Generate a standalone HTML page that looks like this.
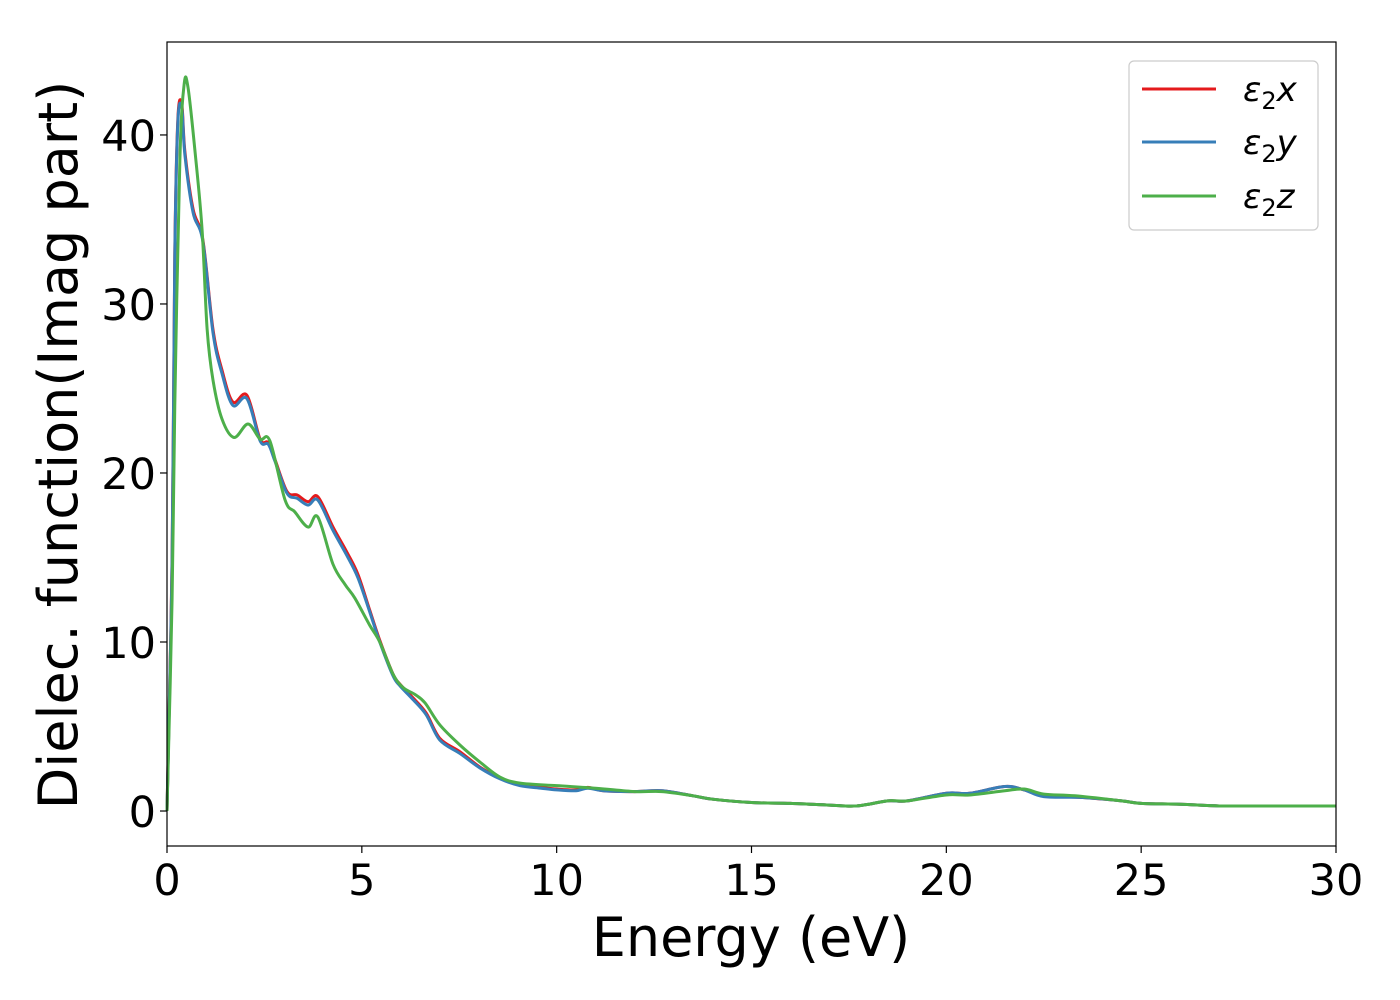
<!DOCTYPE html>
<html><head><meta charset="utf-8"><style>
html,body{margin:0;padding:0;background:#fff;}
svg{display:block;font-family:"DejaVu Sans","Liberation Sans",sans-serif;}
</style></head><body>
<svg id="chart" width="1400" height="1000" viewBox="0 0 1400 1000" xmlns="http://www.w3.org/2000/svg">
<rect x="0" y="0" width="1400" height="1000" fill="#fff"/>
<g id="series"></g>
<g id="axes"></g>
<rect x="167" y="42" width="1169" height="804" fill="none" stroke="#000" stroke-width="1.2"/>
<text x="751" y="956" font-size="54" text-anchor="middle">Energy (eV)</text>
<text transform="translate(77,445) rotate(-90)" font-size="54" text-anchor="middle">Dielec. function(Imag part)</text>
<g>
<rect x="1129" y="61" width="189" height="169" rx="5" fill="#fff" stroke="#ccc" stroke-width="1.2"/>
<g><line x1="1142" y1="89" x2="1216" y2="89" stroke="#e41a1c" stroke-width="3"/><text x="1243" y="101" font-size="34" font-style="italic">ε<tspan font-size="24" font-style="normal" dy="8">2</tspan><tspan dy="-8">x</tspan></text></g>
<g><line x1="1142" y1="142" x2="1216" y2="142" stroke="#377eb8" stroke-width="3"/><text x="1243" y="154" font-size="34" font-style="italic">ε<tspan font-size="24" font-style="normal" dy="8">2</tspan><tspan dy="-8">y</tspan></text></g>
<g><line x1="1142" y1="196" x2="1216" y2="196" stroke="#4daf4a" stroke-width="3"/><text x="1243" y="208" font-size="34" font-style="italic">ε<tspan font-size="24" font-style="normal" dy="8">2</tspan><tspan dy="-8">z</tspan></text></g>
</g>
</svg>
<script>
const xTicks=[0,5,10,15,20,25,30];
const yTicks=[0,10,20,30,40];
const energyXY=[0,0.13,0.2,0.28,0.38,0.46,0.67,0.92,1.18,1.41,1.69,2.05,2.39,2.6,2.77,3.08,3.34,3.62,3.87,4.26,4.62,4.9,5.2,5.46,5.8,5.98,6.29,6.65,7.0,7.52,8.03,8.55,9.06,9.6,10,10.5,10.8,11.2,12,12.7,13.5,14,15,16,17,17.7,18.5,19,20,20.6,21.5,22,22.5,23.5,24.5,25,26,27,28,30];
const epsX=[0,14.9,33,41,41.8,39,35.6,33.8,28.5,26.1,24.2,24.6,22.0,21.8,20.8,18.9,18.7,18.3,18.6,16.8,15.3,14.0,11.9,10.1,8.1,7.5,6.75,5.8,4.3,3.5,2.6,1.95,1.55,1.4,1.3,1.25,1.4,1.2,1.15,1.2,0.9,0.7,0.5,0.45,0.35,0.3,0.6,0.6,1.05,1.05,1.45,1.25,0.9,0.8,0.6,0.45,0.4,0.3,0.3,0.3];
const epsY=[0,14.7,32.8,40.8,41.6,38.8,35.4,33.7,28.3,25.9,24.0,24.4,21.9,21.7,20.7,18.8,18.5,18.1,18.4,16.6,15.1,13.8,11.8,10.0,8.0,7.4,6.65,5.7,4.2,3.4,2.55,1.9,1.5,1.35,1.25,1.2,1.35,1.2,1.15,1.2,0.9,0.7,0.5,0.45,0.35,0.3,0.6,0.6,1.05,1.05,1.45,1.25,0.85,0.8,0.6,0.45,0.4,0.3,0.3,0.3];
const energyZ=[0,0.13,0.2,0.33,0.44,0.54,0.72,0.9,1.03,1.18,1.41,1.72,2.08,2.39,2.64,3.03,3.28,3.62,3.87,4.26,4.57,4.82,5.2,5.46,5.8,6.06,6.36,6.62,7.0,7.52,8.03,8.55,9.06,10,11,12,12.7,13.5,14,15,16,17,17.7,18.5,19,20,20.6,21.5,22,22.5,23.3,24.5,25,26,27,28,30];
const epsZ=[0,12.5,24,38.5,43.0,42.8,39,34.4,28.5,25.5,23.2,22.1,22.9,22,21.9,18.4,17.7,16.8,17.4,14.6,13.4,12.6,11.0,10.0,8.1,7.3,6.9,6.4,5.1,3.9,2.9,2.0,1.65,1.5,1.35,1.15,1.15,0.9,0.7,0.5,0.45,0.35,0.3,0.6,0.6,0.95,0.95,1.2,1.3,1.0,0.9,0.6,0.45,0.4,0.3,0.3,0.3];

const NS="http://www.w3.org/2000/svg";
const X0=167,X1=1336,Y0=846,Y1=42,XMIN=0,XMAX=30,YMIN=-2.07,YMAX=45.5;
function sx(v){return X0+(v-XMIN)/(XMAX-XMIN)*(X1-X0);}
function sy(v){return Y0-(v-YMIN)/(YMAX-YMIN)*(Y0-Y1);}
function smooth(xs,ys){
  const p=xs.map((x,i)=>[sx(x),sy(ys[i])]);
  let d="M"+p[0][0].toFixed(2)+","+p[0][1].toFixed(2);
  for(let i=0;i<p.length-1;i++){
    const a=p[i-1]||p[i],b=p[i],c=p[i+1],e=p[i+2]||c;
    const c1=[b[0]+(c[0]-a[0])/6,b[1]+(c[1]-a[1])/6];
    const c2=[c[0]-(e[0]-b[0])/6,c[1]-(e[1]-b[1])/6];
    d+="C"+c1[0].toFixed(2)+","+c1[1].toFixed(2)+" "+c2[0].toFixed(2)+","+c2[1].toFixed(2)+" "+c[0].toFixed(2)+","+c[1].toFixed(2);
  }
  return d;
}
const sg=document.getElementById('series');
function addLine(xs,ys,color,name){
  const p=document.createElementNS(NS,'path');
  p.setAttribute('d',smooth(xs,ys));
  p.setAttribute('fill','none');
  p.setAttribute('stroke',color);
  p.setAttribute('stroke-width','3');
  p.setAttribute('stroke-linejoin','round');
  
  
  sg.appendChild(p);
}
addLine(energyXY,epsX,'#e41a1c','series-eps2-x');
addLine(energyXY,epsY,'#377eb8','series-eps2-y');
addLine(energyZ,epsZ,'#4daf4a','series-eps2-z');
const ag=document.getElementById('axes');
xTicks.forEach(t=>{
  const l=document.createElementNS(NS,'line');
  l.setAttribute('x1',sx(t));l.setAttribute('x2',sx(t));l.setAttribute('y1',Y0);l.setAttribute('y2',Y0+7);
  l.setAttribute('stroke','#000');l.setAttribute('stroke-width','1.2');
  
  
  ag.appendChild(l);
  const tx=document.createElementNS(NS,'text');
  tx.setAttribute('x',sx(t));tx.setAttribute('y',Y0+49);tx.setAttribute('font-size','43');tx.setAttribute('text-anchor','middle');
  tx.textContent=t;
  
  
  ag.appendChild(tx);
});
yTicks.forEach(t=>{
  const l=document.createElementNS(NS,'line');
  l.setAttribute('x1',X0-7);l.setAttribute('x2',X0);l.setAttribute('y1',sy(t));l.setAttribute('y2',sy(t));
  l.setAttribute('stroke','#000');l.setAttribute('stroke-width','1.2');
  
  
  ag.appendChild(l);
  const tx=document.createElementNS(NS,'text');
  tx.setAttribute('x',X0-11);tx.setAttribute('y',sy(t)+16);tx.setAttribute('font-size','43');tx.setAttribute('text-anchor','end');
  tx.textContent=t;
  
  
  ag.appendChild(tx);
});
</script>
</body></html>
